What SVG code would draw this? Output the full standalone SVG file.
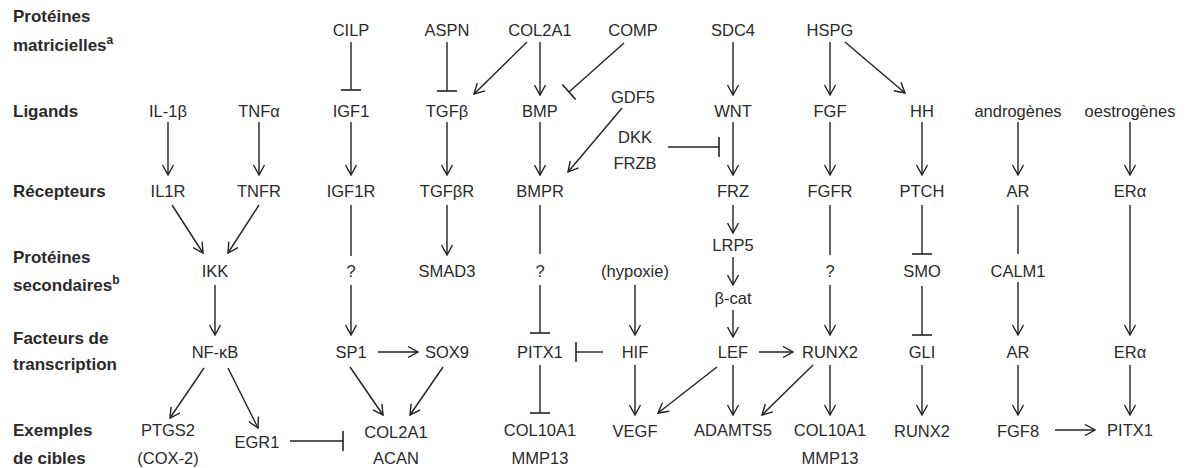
<svg xmlns="http://www.w3.org/2000/svg" width="1190" height="468" viewBox="0 0 1190 468">
<defs>
<style>
text{font-family:"Liberation Sans",Arial,sans-serif;fill:#2a2a2a;}
.n{font-size:16.5px;text-anchor:middle;}
.lab{font-size:17px;font-weight:bold;}
.sup{font-size:12px;}
#edges line{stroke:#222;stroke-width:1.4;fill:none;}
.a{marker-end:url(#arr);}
.t{marker-end:url(#bar);}
</style>
<marker id="arr" viewBox="0 0 12 12" refX="11" refY="6" markerWidth="12" markerHeight="12" markerUnits="userSpaceOnUse" orient="auto">
<path d="M1,0.5 L11,6 L1,11.5" fill="none" stroke="#222" stroke-width="1.4"/>
</marker>
<marker id="bar" viewBox="0 0 4 20" refX="2" refY="10" markerWidth="4" markerHeight="20" markerUnits="userSpaceOnUse" orient="auto">
<path d="M2,0 V20" fill="none" stroke="#222" stroke-width="1.6"/>
</marker>
</defs>
<rect width="1190" height="468" fill="#fff"/>
<g id="row-labels">
<text class="lab" x="13" y="22">Protéines</text>
<text class="lab" x="13" y="51">matricielles<tspan class="sup" dy="-7">a</tspan></text>
<text class="lab" x="13" y="117">Ligands</text>
<text class="lab" x="13" y="197">Récepteurs</text>
<text class="lab" x="13" y="263">Protéines</text>
<text class="lab" x="13" y="291">secondaires<tspan class="sup" dy="-7">b</tspan></text>
<text class="lab" x="13" y="344">Facteurs de</text>
<text class="lab" x="13" y="370">transcription</text>
<text class="lab" x="13" y="436">Exemples</text>
<text class="lab" x="13" y="464">de cibles</text>
</g>
<g id="edges">
<line class="t" x1="351" y1="42" x2="351" y2="90"/>
<line class="t" x1="447" y1="42" x2="447" y2="91"/>
<line class="a" x1="527" y1="42" x2="474" y2="94"/>
<line class="a" x1="540" y1="42" x2="540" y2="95"/>
<line class="t" x1="624" y1="43" x2="569" y2="92"/>
<line class="a" x1="622" y1="108" x2="568" y2="172"/>
<line class="t" x1="668" y1="147" x2="719" y2="147"/>
<line class="a" x1="733" y1="42" x2="733" y2="95"/>
<line class="a" x1="733" y1="122" x2="733" y2="175"/>
<line class="a" x1="830" y1="42" x2="830" y2="95"/>
<line class="a" x1="845" y1="42" x2="905" y2="93"/>
<line class="a" x1="168" y1="122" x2="168" y2="175"/>
<line class="a" x1="259" y1="122" x2="259" y2="175"/>
<line class="a" x1="351" y1="122" x2="351" y2="175"/>
<line class="a" x1="447" y1="122" x2="447" y2="175"/>
<line class="a" x1="540" y1="122" x2="540" y2="175"/>
<line class="a" x1="830" y1="122" x2="830" y2="175"/>
<line class="a" x1="922" y1="122" x2="922" y2="175"/>
<line class="a" x1="1018" y1="122" x2="1018" y2="175"/>
<line class="a" x1="1130" y1="122" x2="1130" y2="175"/>
<line class="a" x1="172" y1="205" x2="203" y2="253"/>
<line class="a" x1="259" y1="205" x2="228" y2="253"/>
<line x1="351" y1="205" x2="351" y2="256"/>
<line class="a" x1="351" y1="285" x2="351" y2="335"/>
<line class="a" x1="447" y1="205" x2="447" y2="255"/>
<line x1="540" y1="205" x2="540" y2="254"/>
<line class="t" x1="540" y1="285" x2="540" y2="333"/>
<line class="a" x1="733" y1="205" x2="733" y2="233"/>
<line class="a" x1="733" y1="257" x2="733" y2="285"/>
<line class="a" x1="733" y1="310" x2="733" y2="337"/>
<line x1="830" y1="205" x2="830" y2="255"/>
<line class="a" x1="830" y1="285" x2="830" y2="335"/>
<line class="t" x1="922" y1="205" x2="922" y2="254"/>
<line class="t" x1="922" y1="286" x2="922" y2="335"/>
<line x1="1018" y1="205" x2="1018" y2="254"/>
<line class="a" x1="1018" y1="282" x2="1018" y2="335"/>
<line class="a" x1="1130" y1="205" x2="1130" y2="335"/>
<line class="a" x1="215" y1="285" x2="215" y2="335"/>
<line class="a" x1="635" y1="285" x2="635" y2="335"/>
<line class="a" x1="378" y1="352" x2="418" y2="352"/>
<line class="t" x1="603" y1="352" x2="576" y2="352"/>
<line class="a" x1="759" y1="352" x2="793" y2="352"/>
<line class="a" x1="204" y1="368" x2="170" y2="418"/>
<line class="a" x1="228" y1="368" x2="258" y2="428"/>
<line class="t" x1="290" y1="441" x2="343" y2="441"/>
<line class="a" x1="350" y1="367" x2="383" y2="415"/>
<line class="a" x1="443" y1="367" x2="410" y2="415"/>
<line class="t" x1="540" y1="365" x2="540" y2="413"/>
<line class="a" x1="635" y1="365" x2="635" y2="415"/>
<line class="a" x1="717" y1="367" x2="658" y2="413"/>
<line class="a" x1="733" y1="365" x2="733" y2="415"/>
<line class="a" x1="813" y1="365" x2="762" y2="415"/>
<line class="a" x1="830" y1="365" x2="830" y2="415"/>
<line class="a" x1="922" y1="365" x2="922" y2="415"/>
<line class="a" x1="1018" y1="365" x2="1018" y2="415"/>
<line class="a" x1="1055" y1="430" x2="1095" y2="430"/>
<line class="a" x1="1130" y1="365" x2="1130" y2="415"/>
</g>
<g id="n-CILP"><text class="n" x="351" y="36">CILP</text></g>
<g id="n-ASPN"><text class="n" x="447" y="36">ASPN</text></g>
<g id="n-COL2A1m"><text class="n" x="540" y="36">COL2A1</text></g>
<g id="n-COMP"><text class="n" x="633" y="36">COMP</text></g>
<g id="n-SDC4"><text class="n" x="733" y="36">SDC4</text></g>
<g id="n-HSPG"><text class="n" x="830" y="36">HSPG</text></g>
<g id="n-IL1b"><text class="n" x="168" y="117">IL-1β</text></g>
<g id="n-TNFa"><text class="n" x="259" y="117">TNFα</text></g>
<g id="n-IGF1"><text class="n" x="351" y="117">IGF1</text></g>
<g id="n-TGFb"><text class="n" x="447" y="117">TGFβ</text></g>
<g id="n-BMP"><text class="n" x="540" y="117">BMP</text></g>
<g id="n-GDF5"><text class="n" x="633" y="103">GDF5</text></g>
<g id="n-DKK"><text class="n" x="635" y="143">DKK</text><text class="n" x="635" y="169">FRZB</text></g>
<g id="n-WNT"><text class="n" x="733" y="117">WNT</text></g>
<g id="n-FGF"><text class="n" x="830" y="117">FGF</text></g>
<g id="n-HH"><text class="n" x="922" y="117">HH</text></g>
<g id="n-andro"><text class="n" x="1018" y="117">androgènes</text></g>
<g id="n-oestro"><text class="n" x="1130" y="117">oestrogènes</text></g>
<g id="n-IL1R"><text class="n" x="168" y="197">IL1R</text></g>
<g id="n-TNFR"><text class="n" x="259" y="197">TNFR</text></g>
<g id="n-IGF1R"><text class="n" x="351" y="197">IGF1R</text></g>
<g id="n-TGFbR"><text class="n" x="447" y="197">TGFβR</text></g>
<g id="n-BMPR"><text class="n" x="540" y="197">BMPR</text></g>
<g id="n-FRZ"><text class="n" x="733" y="197">FRZ</text></g>
<g id="n-FGFR"><text class="n" x="830" y="197">FGFR</text></g>
<g id="n-PTCH"><text class="n" x="922" y="197">PTCH</text></g>
<g id="n-AR1"><text class="n" x="1018" y="197">AR</text></g>
<g id="n-ERa1"><text class="n" x="1130" y="197">ERα</text></g>
<g id="n-IKK"><text class="n" x="215" y="277">IKK</text></g>
<g id="n-q1"><text class="n" x="351" y="277">?</text></g>
<g id="n-SMAD3"><text class="n" x="447" y="277">SMAD3</text></g>
<g id="n-q2"><text class="n" x="540" y="277">?</text></g>
<g id="n-hypoxie"><text class="n" x="635" y="277">(hypoxie)</text></g>
<g id="n-LRP5"><text class="n" x="733" y="251">LRP5</text></g>
<g id="n-bcat"><text class="n" x="733" y="304">β-cat</text></g>
<g id="n-q3"><text class="n" x="830" y="277">?</text></g>
<g id="n-SMO"><text class="n" x="922" y="277">SMO</text></g>
<g id="n-CALM1"><text class="n" x="1018" y="277">CALM1</text></g>
<g id="n-NFkB"><text class="n" x="215" y="358">NF-κB</text></g>
<g id="n-SP1"><text class="n" x="351" y="358">SP1</text></g>
<g id="n-SOX9"><text class="n" x="447" y="358">SOX9</text></g>
<g id="n-PITX1a"><text class="n" x="540" y="358">PITX1</text></g>
<g id="n-HIF"><text class="n" x="635" y="358">HIF</text></g>
<g id="n-LEF"><text class="n" x="733" y="358">LEF</text></g>
<g id="n-RUNX2a"><text class="n" x="830" y="358">RUNX2</text></g>
<g id="n-GLI"><text class="n" x="922" y="358">GLI</text></g>
<g id="n-AR2"><text class="n" x="1018" y="358">AR</text></g>
<g id="n-ERa2"><text class="n" x="1130" y="358">ERα</text></g>
<g id="n-PTGS2"><text class="n" x="168" y="436">PTGS2</text><text class="n" x="168" y="464">(COX-2)</text></g>
<g id="n-EGR1"><text class="n" x="257" y="448">EGR1</text></g>
<g id="n-COL2A1t"><text class="n" x="396" y="438">COL2A1</text><text class="n" x="396" y="464">ACAN</text></g>
<g id="n-COL10A1a"><text class="n" x="540" y="436">COL10A1</text><text class="n" x="540" y="464">MMP13</text></g>
<g id="n-VEGF"><text class="n" x="635" y="437">VEGF</text></g>
<g id="n-ADAMTS5"><text class="n" x="733" y="436">ADAMTS5</text></g>
<g id="n-COL10A1b"><text class="n" x="830" y="436">COL10A1</text><text class="n" x="830" y="464">MMP13</text></g>
<g id="n-RUNX2b"><text class="n" x="922" y="437">RUNX2</text></g>
<g id="n-FGF8"><text class="n" x="1018" y="437">FGF8</text></g>
<g id="n-PITX1b"><text class="n" x="1130" y="436">PITX1</text></g>
</svg>
